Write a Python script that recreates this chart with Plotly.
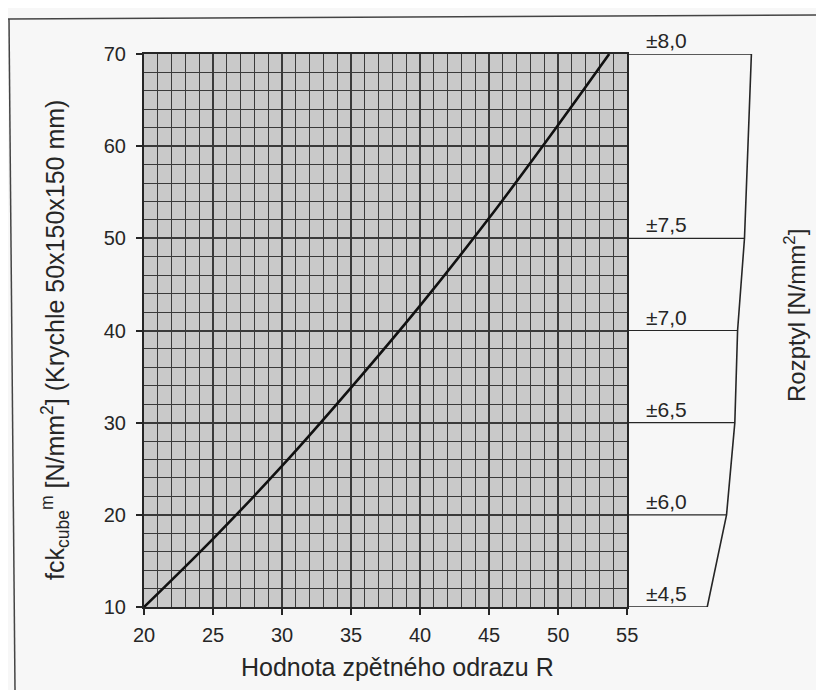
import plotly.graph_objects as go

# ---- data ----
R_values = [20, 25, 30, 35, 40, 45, 50, 53.7]
fck_values = [10, 17.4, 25.3, 33.8, 42.7, 52.2, 62.3, 70]

x_ticks = [20, 25, 30, 35, 40, 45, 50, 55]
y_ticks = [10, 20, 30, 40, 50, 60, 70]

rozptyl_levels = [70, 50, 40, 30, 20, 10]
rozptyl_labels = ["±8,0", "±7,5", "±7,0", "±6,5", "±6,0", "±4,5"]
rozptyl_edge = [64.0, 63.5, 63.0, 62.8, 62.2, 60.8]

x_main_range = [20, 55]
x_panel_range = [55, 66]
y_range = [10, 70]

FONT = "Liberation Sans, Arial, sans-serif"
INK = "#262626"
GRID = "#3a3a3a"

# page body has an 8px margin, so the figure is drawn 8px smaller and shifted
OFF = 8
W, H = 824 - OFF, 690 - OFF
L, R, T, B = 144 - OFF, 45, 54 - OFF, 83
pw = W - L - R
ph = H - T - B
split = (x_main_range[1] - x_main_range[0]) / (x_panel_range[1] - x_main_range[0])


def px(xs):  # screen x -> paper
    return (xs - OFF - L) / pw


def py(ys):  # screen y -> paper
    return (H - B - (ys - OFF)) / ph


fig = go.Figure()

# main calibration curve
fig.add_trace(go.Scatter(x=R_values, y=fck_values, mode="lines", line_shape="spline",
                         line=dict(color="#111", width=2.6),
                         xaxis="x", yaxis="y", hoverinfo="skip", showlegend=False))

# right "Rozptyl" panel outline
ox = [x_panel_range[0]] + rozptyl_edge + [x_panel_range[0]]
oy = [rozptyl_levels[0]] + rozptyl_levels + [rozptyl_levels[-1]]
fig.add_trace(go.Scatter(x=ox, y=oy, mode="lines",
                         line=dict(color=INK, width=1.6),
                         xaxis="x2", yaxis="y2", hoverinfo="skip", showlegend=False))

# band separators
bx, by = [], []
for lvl, edge in zip(rozptyl_levels[1:-1], rozptyl_edge[1:-1]):
    bx += [x_panel_range[0], edge, None]
    by += [lvl, lvl, None]
fig.add_trace(go.Scatter(x=bx, y=by, mode="lines",
                         line=dict(color=INK, width=1.2),
                         xaxis="x2", yaxis="y2", hoverinfo="skip", showlegend=False))

annotations = []
for lvl, lab in zip(rozptyl_levels, rozptyl_labels):
    annotations.append(dict(x=x_panel_range[0] + 1.2, y=lvl, xref="x2", yref="y2",
                            text=lab, showarrow=False, xanchor="left", yanchor="bottom",
                            yshift=0, font=dict(family=FONT, size=21, color=INK)))

# axis titles
annotations.append(dict(x=px(397), y=py(667), xref="paper", yref="paper",
                        text="Hodnota zpětného odrazu R", showarrow=False,
                        xanchor="center", yanchor="middle",
                        font=dict(family=FONT, size=25, color=INK)))
annotations.append(dict(x=px(55), y=py(340), xref="paper", yref="paper",
                        text="fck<sub>cube</sub><sup>m</sup> [N/mm<sup>2</sup>] (Krychle 50x150x150 mm)",
                        showarrow=False, textangle=-90, xanchor="center", yanchor="middle",
                        font=dict(family=FONT, size=25, color=INK)))
annotations.append(dict(x=px(795), y=py(316), xref="paper", yref="paper",
                        text="Rozptyl [N/mm<sup>2</sup>]", showarrow=False, textangle=-90,
                        xanchor="center", yanchor="middle",
                        font=dict(family=FONT, size=24, color=INK)))

shapes = [
    # grey shaded grid field
    dict(type="rect", xref="x domain", yref="y domain", x0=0, x1=1, y0=0, y1=1,
         fillcolor="#c9c9c9", line=dict(width=0), layer="below"),
    # page frame lines of the scan
    dict(type="line", xref="paper", yref="paper",
         x0=px(8), x1=px(824), y0=py(19), y1=py(15),
         line=dict(color="#444", width=1.5)),
    dict(type="line", xref="paper", yref="paper",
         x0=px(9), x1=px(15), y0=py(19), y1=py(690),
         line=dict(color="#444", width=1.5)),
]

axis_font = dict(family=FONT, size=20, color=INK)

fig.update_layout(
    width=W, height=H,
    margin=dict(l=L, r=R, t=T, b=B, autoexpand=False),
    paper_bgcolor="#f7f7f7",
    plot_bgcolor="rgba(0,0,0,0)",
    showlegend=False,
    xaxis=dict(domain=[0, split], range=x_main_range, anchor="y",
               tickvals=x_ticks, ticks="outside", ticklen=6, tickwidth=1.5, tickcolor=INK,
               tickfont=axis_font, ticklabelstandoff=3,
               showline=True, linecolor=INK, linewidth=2, mirror=True,
               showgrid=True, gridcolor=GRID, gridwidth=2,
               minor=dict(dtick=1, showgrid=True, gridcolor=GRID, gridwidth=1, ticks=""),
               zeroline=False, fixedrange=True),
    yaxis=dict(domain=[0, 1], range=y_range, anchor="x",
               tickvals=y_ticks, ticks="outside", ticklen=6, tickwidth=1.5, tickcolor=INK,
               tickfont=axis_font, ticklabelstandoff=6,
               showline=True, linecolor=INK, linewidth=2, mirror=True,
               showgrid=True, gridcolor=GRID, gridwidth=2,
               minor=dict(dtick=2, showgrid=True, gridcolor=GRID, gridwidth=1, ticks=""),
               zeroline=False, fixedrange=True),
    xaxis2=dict(domain=[split, 1], range=x_panel_range, anchor="y2", visible=False,
                showgrid=False, zeroline=False),
    yaxis2=dict(domain=[0, 1], range=y_range, anchor="x2", visible=False,
                showgrid=False, zeroline=False, matches="y"),
    annotations=annotations,
    shapes=shapes,
)

fig.write_html("out.html")
